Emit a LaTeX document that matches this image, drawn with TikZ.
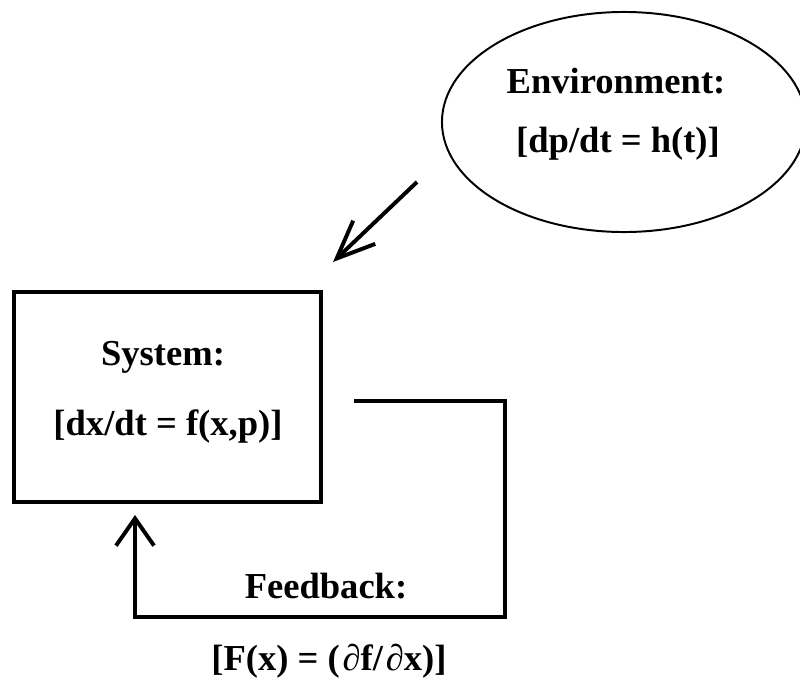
\documentclass[tikz,border=0pt]{standalone}
\usepackage{fontspec}
\setmainfont{Liberation Serif}
\usetikzlibrary{shapes.geometric,arrows.meta}
\begin{document}
\begin{tikzpicture}[x=0.025cm,y=-0.025cm,
  lbl/.style={font=\fontsize{26}{31}\selectfont\bfseries,inner sep=0pt,anchor=base},
  sysbox/.style={draw,line width=2.8pt,minimum width=7.67cm,minimum height=5.25cm,inner sep=0pt},
  envshape/.style={draw,ellipse,line width=1.4pt,minimum width=9.1cm,minimum height=5.5cm,inner sep=0pt},
  link/.style={line width=2.8pt}]
\useasboundingbox (0,0) rectangle (800,684);
\clip (0,0) rectangle (800,684);
% environment
\node[envshape] (env) at (624,122) {};
\node[lbl] (envtitle) at (616,93) {Environment:};
\node[lbl] (envlaw) at (618,152) {[dp/dt = h(t)]};
% system
\node[sysbox] (sys) at (167.5,397) {};
\node[lbl] (systitle) at (163,365) {System:};
\node[lbl] (syslaw) at (168,435) {[dx/dt = f(x,p)]};
% environment acts on the system
\coordinate (envtail) at (417,182);
\coordinate (envtip) at (333,262);
\draw[link,-{Straight Barb[length=0.95cm,width=0.8cm]}] (envtail) -- (envtip);
% feedback loop
\coordinate (fbstart) at (354,401);
\coordinate (fbcorner) at (505,617);
\coordinate (fbtip) at (135,515);
\draw[link,-{Straight Barb[length=0.68cm,width=0.95cm]}] (fbstart) -| (fbcorner) -| (fbtip);
\node[lbl] (fbtitle) at (326,598) {Feedback:};
\node[lbl] (fblaw) at (329,670) {[F(x) = (\kern2pt∂f/\kern2pt∂x)]};
\end{tikzpicture}
\end{document}
